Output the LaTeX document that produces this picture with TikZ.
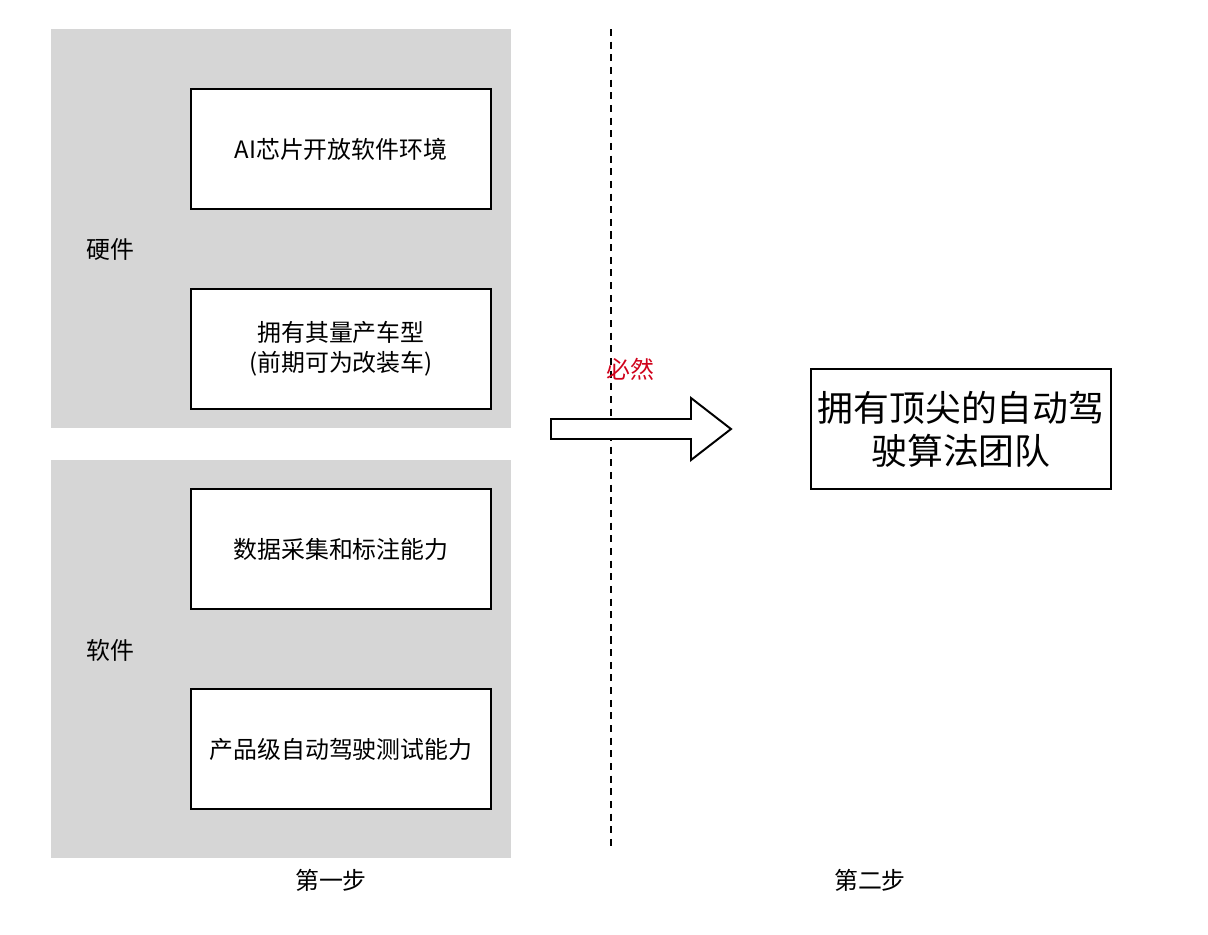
\documentclass[tikz,border=0pt]{standalone}
\usepackage{fontspec}
\setmainfont{Noto Sans CJK SC}
\usepackage{xcolor}
\definecolor{panelgray}{HTML}{D6D6D6}
\definecolor{notered}{HTML}{D0021B}
\tikzset{
	stepbox/.style={draw, line width=1.4pt, fill=white, minimum width=7.5cm, minimum height=3cm, align=center, font=\fontsize{17}{21.5}\selectfont},
	lbl/.style={font=\fontsize{17}{21.5}\selectfont}
}

\begin{document}
\begin{tikzpicture}[x=0.025cm, y=-0.025cm]
		\useasboundingbox (0, 0) rectangle (1208, 934);
		% 灰色底板
		\fill [panelgray] (51, 29) rectangle (511, 428);
		\fill [panelgray] (51, 460) rectangle (511, 858);
		% 分隔线
		\draw [line width=1.2pt, dash pattern=on 5pt off 4pt] (611, 29) -- (611, 850);
		% 方框
		\node [stepbox] (chip) at (341, 149) {AI芯片开放软件环境};
		\node [stepbox] (car) at (341, 349) {拥有其量产车型\\(前期可为改装车)};
		\node [stepbox] (data) at (341, 549) {数据采集和标注能力};
		\node [stepbox] (test) at (341, 749) {产品级自动驾驶测试能力};
		\node [stepbox, font=\fontsize{25.5}{30.5}\selectfont] (team) at (961, 429) {拥有顶尖的自动驾\\驶算法团队};
		% 批注
		\node [lbl] (hw) at (110, 249) {硬件};
		\node [lbl] (sw) at (110, 650) {软件};
		\node [lbl, text=notered] (must) at (630, 369) {必然};
		\node [lbl] (step1) at (331, 880) {第一步};
		\node [lbl] (step2) at (870, 880) {第二步};
		% 箭头
		\draw [line width=1.4pt, fill=white, line join=miter]
		(551, 419) -- (691, 419) -- (691, 398) -- (731, 429) --
		(691, 460) -- (691, 439) -- (551, 439) -- cycle;
	\end{tikzpicture}
\end{document}
